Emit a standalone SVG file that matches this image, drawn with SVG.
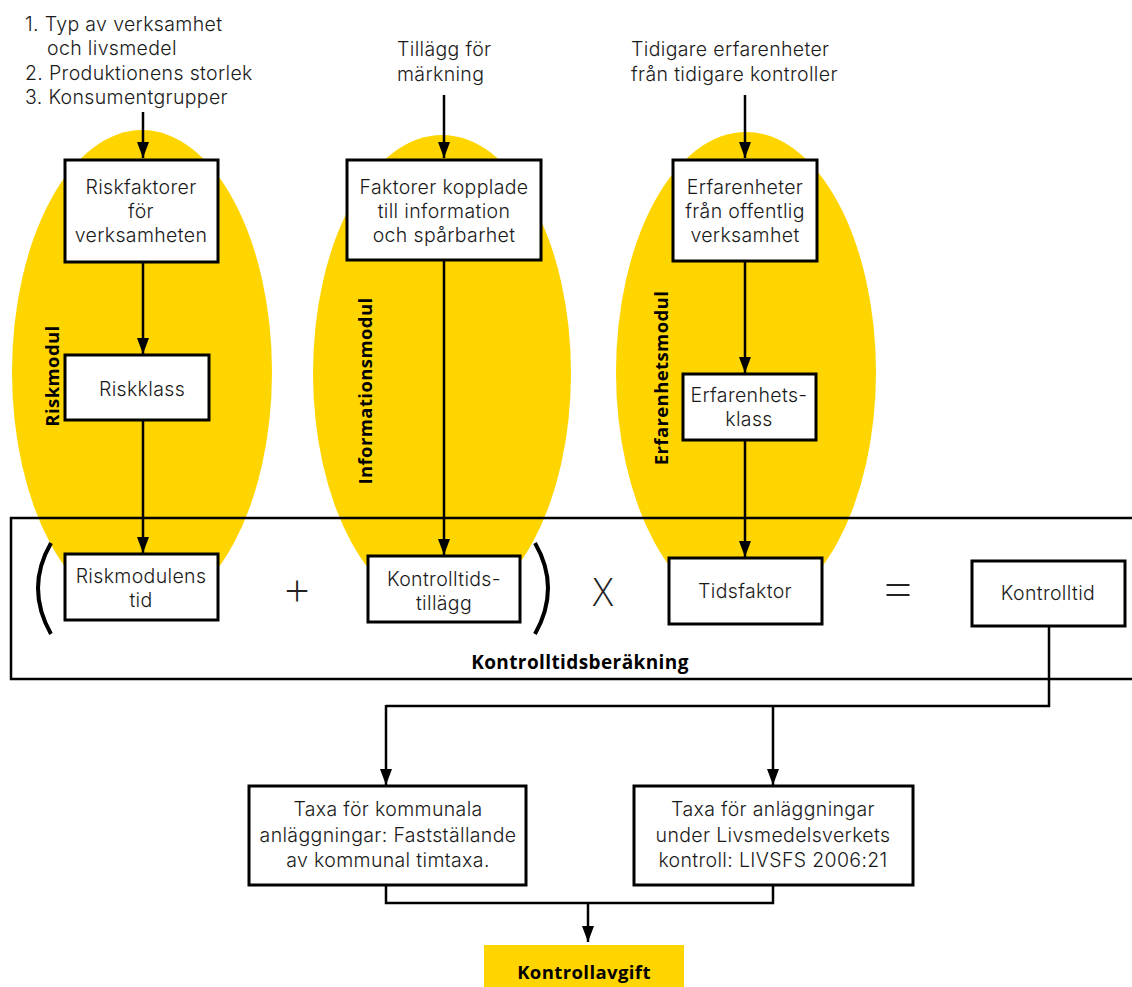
<svg xmlns="http://www.w3.org/2000/svg" width="1132" height="987" viewBox="0 0 1132 987">
<defs>
<style>
.t{font-family:Inter,"Open Sans","Liberation Sans",sans-serif;font-size:19.5px;font-weight:300;letter-spacing:0.35px;fill:#1a1a1a}
.c{text-anchor:middle}
.b{font-family:"Open Sans","Liberation Sans",sans-serif;font-weight:bold;font-size:18.5px;letter-spacing:0.4px;fill:#000}
.box{fill:#fff;stroke:#000;stroke-width:3}
.ell{fill:#FFD500}
.ln{fill:none;stroke:#000;stroke-width:2.5}
.op{font-family:"Open Sans","Liberation Sans",sans-serif;font-size:44px;fill:#222;text-anchor:middle;font-weight:300}
</style>
<marker id="arr" viewBox="0 0 16 12" refX="16" refY="6" markerWidth="16" markerHeight="12" markerUnits="userSpaceOnUse" orient="auto">
<path d="M0,0 L16,6 L0,12 Z" fill="#000"/>
</marker>
</defs>

<g id="modules">
<ellipse class="ell" cx="142" cy="372" rx="130" ry="242"/>
<ellipse class="ell" cx="442" cy="373" rx="129" ry="238"/>
<ellipse class="ell" cx="746" cy="372" rx="130" ry="240"/>
</g>

<g id="kontrolltidsberakning">
<rect x="11" y="518" width="1135" height="161" fill="none" stroke="#000" stroke-width="2.5"/>
<text class="b c" x="580" y="669" style="font-size:19px">Kontrolltidsberäkning</text>
</g>

<g id="connectors">
<line class="ln" x1="143" y1="112" x2="143" y2="158" marker-end="url(#arr)"/>
<line class="ln" x1="444" y1="95" x2="444" y2="158" marker-end="url(#arr)"/>
<line class="ln" x1="745" y1="95" x2="745" y2="158" marker-end="url(#arr)"/>
<line class="ln" x1="143" y1="262" x2="143" y2="354" marker-end="url(#arr)"/>
<line class="ln" x1="143" y1="420" x2="143" y2="553" marker-end="url(#arr)"/>
<line class="ln" x1="444" y1="260" x2="444" y2="555" marker-end="url(#arr)"/>
<line class="ln" x1="745" y1="261" x2="745" y2="373" marker-end="url(#arr)"/>
<line class="ln" x1="745" y1="440" x2="745" y2="557" marker-end="url(#arr)"/>
<polyline class="ln" points="1049,626 1049,706 386,706"/>
<line class="ln" x1="386" y1="705" x2="386" y2="785" marker-end="url(#arr)"/>
<line class="ln" x1="773" y1="706" x2="773" y2="785" marker-end="url(#arr)"/>
<polyline class="ln" points="386,885 386,903 773,903 773,885"/>
<line class="ln" x1="588" y1="903" x2="588" y2="942" marker-end="url(#arr)"/>
</g>

<g id="inputs">
<text class="t">
<tspan x="25" y="31">1. Typ av verksamhet</tspan>
<tspan x="47" y="55">och livsmedel</tspan>
<tspan x="25" y="80">2. Produktionens storlek</tspan>
<tspan x="25" y="104">3. Konsumentgrupper</tspan>
</text>
<text class="t">
<tspan x="397" y="56">Tillägg för</tspan>
<tspan x="397" y="81">märkning</tspan>
</text>
<text class="t">
<tspan x="631" y="56">Tidigare erfarenheter</tspan>
<tspan x="631" y="81">från tidigare kontroller</tspan>
</text>
</g>

<g id="riskfaktorer">
<rect class="box" x="65" y="160" width="153" height="102"/>
<text class="t c"><tspan x="141" y="194">Riskfaktorer</tspan><tspan x="141" y="218">för</tspan><tspan x="141" y="242">verksamheten</tspan></text>
</g>
<g id="riskklass">
<rect class="box" x="65" y="355" width="144" height="65"/>
<text class="t c" x="142" y="396">Riskklass</text>
</g>
<g id="riskmodulens-tid">
<rect class="box" x="65" y="554" width="153" height="66"/>
<text class="t c"><tspan x="141" y="583">Riskmodulens</tspan><tspan x="141" y="607">tid</tspan></text>
</g>
<g id="faktorer">
<rect class="box" x="347" y="160" width="194" height="100"/>
<text class="t c"><tspan x="444" y="194">Faktorer kopplade</tspan><tspan x="444" y="218">till information</tspan><tspan x="444" y="242">och spårbarhet</tspan></text>
</g>
<g id="kontrolltidstillagg">
<rect class="box" x="368" y="556" width="152" height="66"/>
<text class="t c"><tspan x="444" y="586">Kontrolltids-</tspan><tspan x="444" y="610">tillägg</tspan></text>
</g>
<g id="erfarenheter">
<rect class="box" x="673" y="160" width="144" height="101"/>
<text class="t c"><tspan x="745" y="194">Erfarenheter</tspan><tspan x="745" y="218">från offentlig</tspan><tspan x="745" y="242">verksamhet</tspan></text>
</g>
<g id="erfarenhetsklass">
<rect class="box" x="683" y="374" width="133" height="66"/>
<text class="t c"><tspan x="749" y="402">Erfarenhets-</tspan><tspan x="749" y="426">klass</tspan></text>
</g>
<g id="tidsfaktor">
<rect class="box" x="669" y="558" width="153" height="66"/>
<text class="t c" x="745" y="598">Tidsfaktor</text>
</g>
<g id="kontrolltid">
<rect class="box" x="972" y="561" width="153" height="65"/>
<text class="t c" x="1048" y="600">Kontrolltid</text>
</g>

<g id="operators">
<path d="M51,543 Q25,588 51,634" fill="none" stroke="#000" stroke-width="4"/>
<path d="M535,543 Q561,588 535,634" fill="none" stroke="#000" stroke-width="4"/>
<text class="op" x="297" y="607">+</text>
<text class="op" x="603" y="606" style="font-size:38px">X</text>
<text class="op" x="898" y="608" style="font-size:50px">=</text>
</g>

<g id="module-labels">
<text class="b c" transform="translate(59,376) rotate(-90)">Riskmodul</text>
<text class="b c" transform="translate(372,391) rotate(-90)">Informationsmodul</text>
<text class="b c" transform="translate(668,378) rotate(-90)">Erfarenhetsmodul</text>
</g>

<g id="taxa-kommunala">
<rect class="box" x="249" y="786" width="277" height="99"/>
<text class="t c"><tspan x="388" y="816">Taxa för kommunala</tspan><tspan x="388" y="842">anläggningar: Fastställande</tspan><tspan x="388" y="867">av kommunal timtaxa.</tspan></text>
</g>
<g id="taxa-livsmedelsverket">
<rect class="box" x="634" y="786" width="279" height="99"/>
<text class="t c"><tspan x="773" y="816">Taxa för anläggningar</tspan><tspan x="773" y="842">under Livsmedelsverkets</tspan><tspan x="773" y="867">kontroll: LIVSFS 2006:21</tspan></text>
</g>
<g id="kontrollavgift">
<rect x="484" y="945" width="200" height="45" fill="#FFD500"/>
<text class="b c" x="584" y="979">Kontrollavgift</text>
</g>
</svg>
